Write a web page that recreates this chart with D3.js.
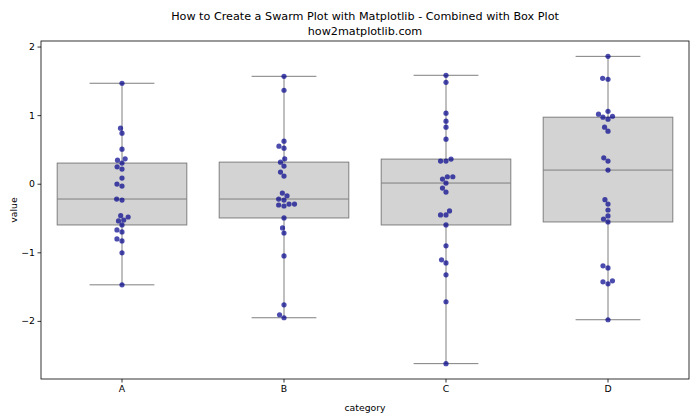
<!DOCTYPE html>
<html>
<head>
<meta charset="utf-8">
<script src="https://cdn.jsdelivr.net/npm/d3@7"></script>
<style>
  html, body { margin: 0; padding: 0; background: #fff; }
  svg { display: block; font-family: "DejaVu Sans", sans-serif; }
</style>
</head>
<body>
<svg id="chart" width="700" height="420"></svg>
<script>
// ---- data ----
const categories = ["A", "B", "C", "D"];
const valuesA = [1.465, 0.810, 0.737, 0.504, 0.363, 0.344, 0.301, 0.247, 0.213, 0.082, -0.005, -0.034, -0.223,
                 -0.238, -0.466, -0.485, -0.529, -0.543, -0.601, -0.674, -0.703, -0.805, -0.834, -1.008, -1.474];
const valuesB = [1.566, 1.363, 0.621, 0.548, 0.519, 0.363, 0.315, 0.257, 0.170, 0.112, -0.136, -0.175, -0.223,
                 -0.238, -0.296, -0.296, -0.310, -0.325, -0.499, -0.645, -0.718, -1.052, -1.765, -1.910, -1.954];
const valuesC = [1.581, 1.479, 1.028, 0.912, 0.825, 0.650, 0.359, 0.330, 0.330, 0.102, 0.102, 0.068, 0.010,
                 -0.063, -0.121, -0.397, -0.455, -0.455, -0.601, -0.906, -1.110, -1.154, -1.328, -1.721, -2.623];
const valuesD = [1.857, 1.537, 1.523, 1.057, 1.014, 0.984, 0.970, 0.941, 0.825, 0.766, 0.378, 0.330, 0.199,
                 -0.233, -0.296, -0.383, -0.470, -0.514, -0.557, -1.197, -1.227, -1.415, -1.430, -1.459, -1.983];
const yTicks = [-2, -1, 0, 1, 2];
const titleLines = ["How to Create a Swarm Plot with Matplotlib - Combined with Box Plot", "how2matplotlib.com"];
const xLabel = "category";
const yLabel = "value";

const seriesValues = [valuesA, valuesB, valuesC, valuesD];

// ---- layout ----
const W = 700, H = 420;
const margin = {left: 41, right: 11, top: 41, bottom: 41};
const x0 = margin.left, x1 = W - margin.right, y0 = margin.top, y1 = H - margin.bottom;

const svg = d3.select("#chart");

const all = seriesValues.flat();
const vmin = d3.min(all), vmax = d3.max(all);
const pad = (vmax - vmin) * 0.05;

const x = d3.scaleBand().domain(categories).range([x0, x1]).paddingInner(0).paddingOuter(0);
const y = d3.scaleLinear().domain([vmin - pad, vmax + pad]).range([y1, y0]);

const boxW = x.bandwidth() * 0.8;
const capW = boxW * 0.5;
const edge = "#7f7f7f";

// ---- boxes ----
const g = svg.append("g");
categories.forEach((c, i) => {
  const vals = seriesValues[i].slice().sort(d3.ascending);
  const q1 = d3.quantile(vals, 0.25), med = d3.quantile(vals, 0.5), q3 = d3.quantile(vals, 0.75);
  const lo = d3.min(vals), hi = d3.max(vals);
  const cx = x(c) + x.bandwidth() / 2;
  g.append("line").attr("x1", cx).attr("x2", cx).attr("y1", y(q3)).attr("y2", y(hi))
    .attr("stroke", edge).attr("stroke-width", 1);
  g.append("line").attr("x1", cx).attr("x2", cx).attr("y1", y(q1)).attr("y2", y(lo))
    .attr("stroke", edge).attr("stroke-width", 1);
  g.append("line").attr("x1", cx - capW / 2).attr("x2", cx + capW / 2).attr("y1", y(hi)).attr("y2", y(hi))
    .attr("stroke", edge).attr("stroke-width", 1);
  g.append("line").attr("x1", cx - capW / 2).attr("x2", cx + capW / 2).attr("y1", y(lo)).attr("y2", y(lo))
    .attr("stroke", edge).attr("stroke-width", 1);
  g.append("rect").attr("x", cx - boxW / 2).attr("y", y(q3)).attr("width", boxW).attr("height", y(q1) - y(q3))
    .attr("fill", "#d3d3d3").attr("stroke", edge).attr("stroke-width", 1);
  g.append("line").attr("x1", cx - boxW / 2).attr("x2", cx + boxW / 2).attr("y1", y(med)).attr("y2", y(med))
    .attr("stroke", edge).attr("stroke-width", 1);
});

// ---- swarm (seaborn-like beeswarm in pixel space) ----
const r = 2.6;
function beeswarm(cx, vals) {
  const pts = vals.map(v => ({v, y: y(v), r})).sort((a, b) => b.y - a.y); // ascending value
  const swarm = [];
  pts.forEach((p, idx) => {
    if (idx === 0) { swarm.push({x: cx, y: p.y, r}); return; }
    const neighbors = [];
    for (let j = swarm.length - 1; j >= 0; j--) {
      if (Math.abs(p.y - swarm[j].y) < 2 * r) neighbors.unshift(swarm[j]); else break;
    }
    const cands = [cx];
    let leftFirst = true;
    neighbors.forEach(n => {
      const dy = p.y - n.y;
      const dx = Math.sqrt(Math.max(4 * r * r - dy * dy, 0)) * 1.05;
      if (leftFirst) cands.push(n.x - dx, n.x + dx); else cands.push(n.x + dx, n.x - dx);
      leftFirst = !leftFirst;
    });
    const ordered = cands.map((cxv, k) => ({cxv, k}))
      .sort((a, b) => (Math.abs(a.cxv - cx) - Math.abs(b.cxv - cx)) || (a.k - b.k));
    let chosen = cx;
    for (const c of ordered) {
      const ok = neighbors.every(n => (n.x - c.cxv) ** 2 + (n.y - p.y) ** 2 >= (2 * r) ** 2 - 1e-9);
      if (ok) { chosen = c.cxv; break; }
    }
    swarm.push({x: chosen, y: p.y, r});
  });
  return swarm;
}

const dots = svg.append("g");
categories.forEach((c, i) => {
  const cx = x(c) + x.bandwidth() / 2;
  const sw = beeswarm(cx, seriesValues[i]);
  dots.selectAll(null).data(sw).enter().append("circle")
    .attr("cx", d => d.x).attr("cy", d => d.y).attr("r", r)
    .attr("fill", "darkblue").attr("fill-opacity", 0.7);
});

// ---- axes ----
const yAxis = d3.axisLeft(y).tickValues(yTicks).tickFormat(d3.format("d")).tickSize(3.5).tickPadding(2.5);
const xAxis = d3.axisBottom(x).tickSize(3.5).tickPadding(2.5);

const ya = svg.append("g").attr("transform", `translate(${x0},0)`).call(yAxis);
const xa = svg.append("g").attr("transform", `translate(0,${y1})`).call(xAxis);
[ya, xa].forEach(a => {
  a.select(".domain").remove();
  a.selectAll(".tick line").attr("stroke", "#000").attr("stroke-width", 0.8);
  a.selectAll(".tick text").attr("fill", "#000").style("font-size", "9.3px").style("font-family", "DejaVu Sans");
});

svg.append("rect").attr("x", x0).attr("y", y0).attr("width", x1 - x0).attr("height", y1 - y0)
  .attr("fill", "none").attr("stroke", "#000").attr("stroke-width", 0.8);

svg.append("text").attr("x", (x0 + x1) / 2).attr("y", 411).attr("text-anchor", "middle")
  .style("font-size", "9.3px").text(xLabel);
svg.append("text").attr("transform", `translate(17,${(y0 + y1) / 2}) rotate(-90)`).attr("text-anchor", "middle")
  .style("font-size", "9.3px").text(yLabel);

titleLines.forEach((t, k) => {
  svg.append("text").attr("x", (x0 + x1) / 2).attr("y", 20 + k * 15).attr("text-anchor", "middle")
    .style("font-size", "11.2px").text(t);
});
</script>
</body>
</html>
